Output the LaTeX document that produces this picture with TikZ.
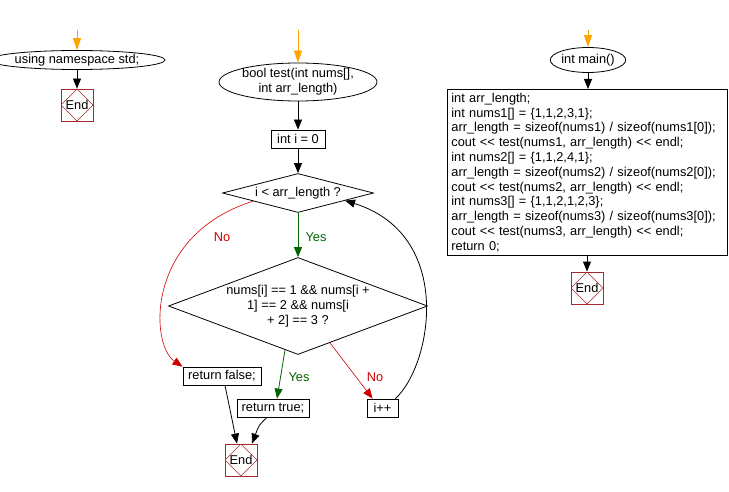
\documentclass[tikz,border=0pt]{standalone}
\usepackage{fontspec}
\setmainfont{Liberation Sans}
\usetikzlibrary{shapes.geometric,arrows.meta,calc}
\definecolor{endred}{RGB}{165,42,42}
\definecolor{nored}{RGB}{204,0,0}
\definecolor{yesgreen}{RGB}{0,100,0}
\definecolor{startorange}{RGB}{255,165,0}
\begin{document}
\begin{tikzpicture}[x=1pt,y=-1pt,
  every node/.style={inner sep=0pt, font=\fontsize{12.8pt}{14.8pt}\selectfont},
  box/.style={draw, line width=0.8pt, rectangle, minimum height=18pt},
  ell/.style={draw, ellipse, line width=0.8pt},
  dia/.style={draw, diamond, line width=0.8pt},
  endbox/.style={draw=endred, line width=0.8pt, minimum width=32pt, minimum height=32pt,
    path picture={\draw[endred, line width=0.5pt] (path picture bounding box.north) -- (path picture bounding box.east) -- (path picture bounding box.south) -- (path picture bounding box.west) -- cycle;}},
  arr/.style={line width=0.8pt, -{Triangle[length=10pt,width=8pt]}},
  startarr/.style={draw=startorange, line width=0.8pt, -{Triangle[length=12pt,width=8pt]}},
  yesarr/.style={arr, draw=yesgreen, yesgreen},
  noarr/.style={arr, draw=nored, nored, line width=0.6pt},
  yeslbl/.style={text=yesgreen},
  nolbl/.style={text=nored}
]
\useasboundingbox (0,0) rectangle (729,492);

% left column
\coordinate (s1) at (77,30);
\node[ell, minimum width=148pt, minimum height=19pt] (ns) at (77,60) {using namespace std;};
\node[endbox] (end1) at (77,105) {End};
\draw[startarr] (s1) -- (ns.north);
\draw[arr] (ns.south) -- (end1.north);

% middle column
\coordinate (s2) at (298,30);
\node[ell, minimum width=140pt, minimum height=38pt, align=center] (test) at (298,82) {bool test(int nums[],\\int arr\_length)};
\node[box, minimum width=54pt] (init) at (298,139) {int i = 0};
\node[dia, minimum width=151pt, minimum height=39pt] (d1) at (298,193) {};
\node (d1t) at (298,193) {i < arr\_length ?};
\node[dia, minimum width=259pt, minimum height=97pt] (d2) at (298,306) {};
\node[align=center] (d2t) at (298,306) {nums[i] == 1 \&\& nums[i +\\1] == 2 \&\& nums[i\\+ 2] == 3 ?};
\node[box, minimum width=78pt] (rf) at (222,376) {return false;};
\node[box, minimum width=72pt] (rt) at (273,408) {return true;};
\node[box, minimum width=31pt] (ipp) at (382.5,408) {i++};
\node[endbox] (end2) at (241,460) {End};

\draw[startarr] (s2) -- (test.north);
\draw[arr] (test.south) -- (init.north);
\draw[arr] (init.south) -- (d1.north);
\draw[yesarr] (d1.south) -- (d2.north);
\node[yeslbl] (y1) at (316,237) {Yes};
\draw[noarr] ($(d1.west)!0.41!(d1.south)$) .. controls (145,235) and (150,345) .. (rf.north west);
\node[nolbl] (n1) at (222,237) {No};
\draw[yesarr] ($(d2.west)!0.9!(d2.south)$) -- ($(rt.north)+(4,0)$);
\node[yeslbl] (y2) at (299,377) {Yes};
\draw[noarr] ($(d2.south)!0.246!(d2.east)$) -- ($(ipp.north west)+(6,0)$);
\node[nolbl] (n2) at (375,377) {No};
\draw[arr] ($(ipp.north east)+(-3,0)$) .. controls (432,365) and (455,235) .. ($(d1.east)!0.38!(d1.south)$);
\draw[arr] ($(rf.south)+(3,0)$) -- ($(end2.north)+(-4,0)$);
\draw[arr] ($(rt.south)+(-6,0)$) .. controls (259,425) .. ($(end2.north)+(11,0)$);

% right column
\coordinate (s3) at (588,30);
\node[ell, minimum width=72pt, minimum height=25pt] (mainE) at (588,60) {int main()};
\node[draw, line width=0.8pt, anchor=north west, minimum width=280pt, minimum height=166pt, text width=272pt, inner xsep=4pt, align=left] (code) at (447,89) {int arr\_length;\\
int nums1[] = \{1,1,2,3,1\};\\
arr\_length = sizeof(nums1) / sizeof(nums1[0]);\\
cout <{}< test(nums1, arr\_length) <{}< endl;\\
int nums2[] = \{1,1,2,4,1\};\\
arr\_length = sizeof(nums2) / sizeof(nums2[0]);\\
cout <{}< test(nums2, arr\_length) <{}< endl;\\
int nums3[] = \{1,1,2,1,2,3\};\\
arr\_length = sizeof(nums3) / sizeof(nums3[0]);\\
cout <{}< test(nums3, arr\_length) <{}< endl;\\
return 0;};
\node[endbox] (end3) at (587,288) {End};
\draw[startarr] (s3) -- (mainE.north);
\draw[arr] (mainE.south) -- (code.north -| mainE.south);
\draw[arr] (code.south -| end3.north) -- (end3.north);
\end{tikzpicture}
\end{document}
